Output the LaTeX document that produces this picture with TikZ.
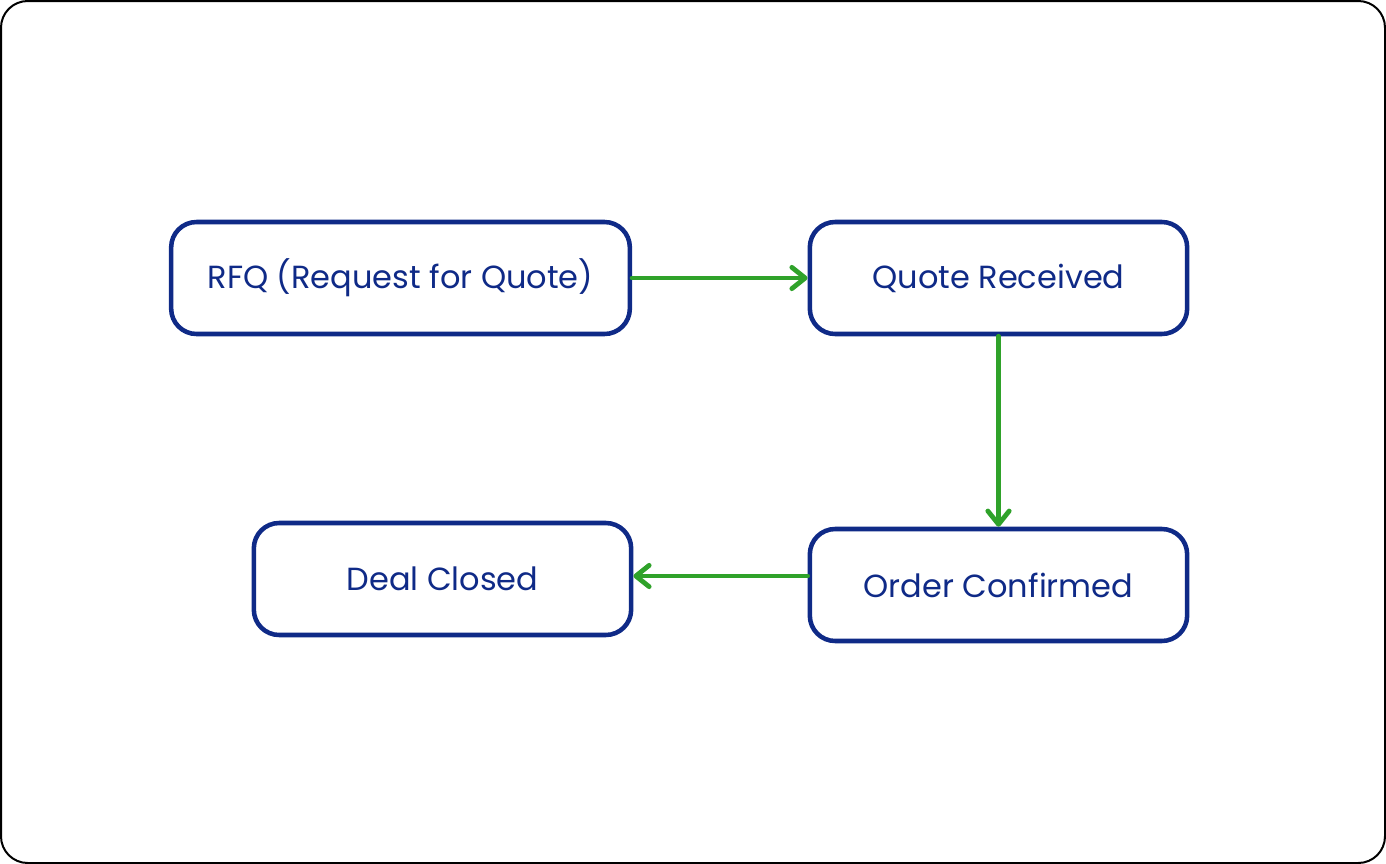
\documentclass[tikz,border=0pt]{standalone}
\usepackage{fontspec}
\setmainfont{Poppins}
\usetikzlibrary{arrows.meta}
\definecolor{boxblue}{HTML}{0F2A87}
\definecolor{flowgreen}{HTML}{2FA22A}
\tikzset{
  stagebox/.style={draw=boxblue,line width=3.4pt,rounded corners=19pt,fill=white,
    text=boxblue,font=\fontsize{24}{28}\selectfont,minimum height=84pt},
  flow/.style={draw=flowgreen,line width=3.6pt,line cap=round,
    -{Straight Barb[length=10pt,width=16pt,round]}}
}
\begin{document}
\begin{tikzpicture}[x=0.75pt,y=-0.75pt,line cap=round,line join=round]
  \useasboundingbox (0,0) rectangle (1386,864);
  \draw[line width=1.5pt,rounded corners=20pt] (1,1) rectangle (1385,863);
  \node[stagebox,minimum width=344pt] (rfq) at (400.5,278) {RFQ (Request for Quote)};
  \node[stagebox,minimum width=283pt] (quote) at (998.5,278) {Quote Received};
  \node[stagebox,minimum width=283pt] (order) at (998.5,585) {Order Confirmed};
  \node[stagebox,minimum width=283pt] (deal) at (442.5,579) {Deal Closed};
  \draw[flow] (rfq.east) -- (quote.west);
  \draw[flow] (quote.south) -- (order.north);
  \draw[flow] ([yshift=6.75pt]order.west) -- ([yshift=6.75pt]order.west -| deal.east);
\end{tikzpicture}
\end{document}
